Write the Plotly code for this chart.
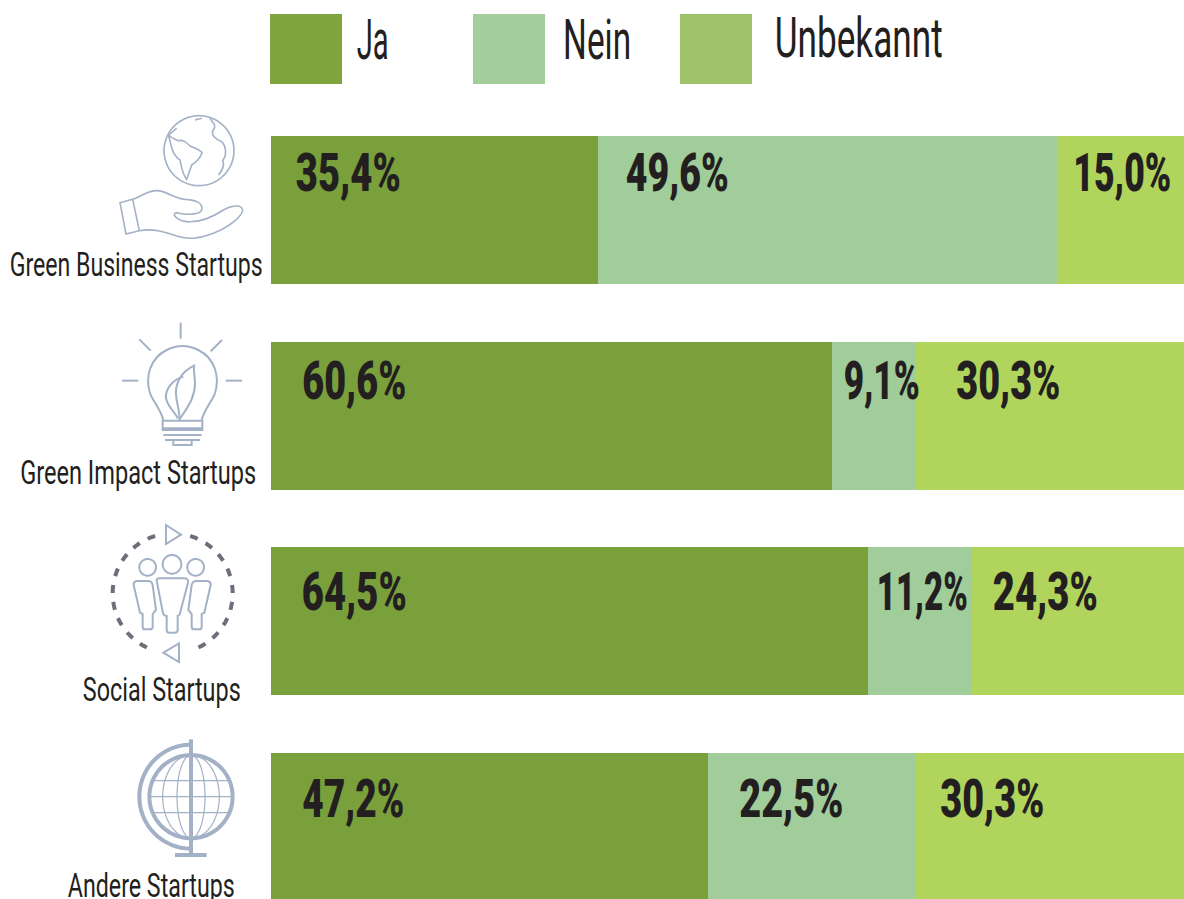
import json
import re
import numpy as np
import plotly.graph_objects as go

W, H = 1184, 899

categories = ["Green Business Startups", "Green Impact Startups", "Social Startups", "Andere Startups"]
ja = [35.4, 60.6, 64.5, 47.2]
nein = [49.6, 9.1, 11.2, 22.5]
unbekannt = [15.0, 30.3, 24.3, 30.3]
series_names = ["Ja", "Nein", "Unbekannt"]

BAR_COLORS = ["#7AA03C", "#A0CD9A", "#B1D55C"]
SWATCH_COLORS = ["#7FA33D", "#A3CE9C", "#9FC36B"]
TEXT = "#231F20"
ICON = "#A3B1C6"
DASH = "#6D6E78"
FONT = "Roboto"

# on-page widths of the condensed lettering, in pixels
TEXT_WIDTHS = {
    "Ja": 32, "Nein": 68, "Unbekannt": 168,
    "Green Business Startups": 253, "Green Impact Startups": 236,
    "Social Startups": 158, "Andere Startups": 167,
    "35,4%": 105, "49,6%": 103, "15,0%": 98, "60,6%": 104, "9,1%": 76, "30,3%": 104,
    "64,5%": 105, "11,2%": 91, "24,3%": 105, "47,2%": 102, "22,5%": 104,
}


def fmt(v):
    return f"{v:.1f}".replace(".", ",") + "%"


fig = go.Figure()
for name, vals, col in zip(series_names, [ja, nein, unbekannt], BAR_COLORS):
    fig.add_bar(y=categories, x=vals, name=name, orientation="h", width=0.72,
                marker=dict(color=col, line=dict(width=0)), showlegend=False, hoverinfo="skip")

annotations = []
shapes = []

# value labels: centre offset from segment start / vertical shift per row, in pixels
label_dx = [[77.5, 79, 65.7], [83, 49.5, 92.3], [83.5, 55, 74.3], [82, 83.4, 76.3]]
label_dy = [38, 35, 30, 28]
for r, cat in enumerate(categories):
    base = 0
    for s, vals in enumerate([ja, nein, unbekannt]):
        annotations.append(dict(x=base, y=cat, xref="x", yref="y", text=fmt(vals[r]), showarrow=False,
                                xanchor="center", yanchor="middle", xshift=label_dx[r][s], yshift=label_dy[r],
                                font=dict(family=FONT, size=54, color=TEXT, weight=900)))
        base += vals[r]


def ann_px(x, y, text, size, weight=400):
    annotations.append(dict(x=x / W, y=1 - y / H, xref="paper", yref="paper", text=text, showarrow=False,
                            xanchor="center", yanchor="middle",
                            font=dict(family=FONT, size=size, color=TEXT, weight=weight)))


for cat, cx, cy in zip(categories, [136, 138, 162, 151.5], [264, 472, 689, 885]):
    ann_px(cx, cy, cat, 34)

# legend
for name, col, x0, tx, ty in zip(series_names, SWATCH_COLORS, [270, 473, 680], [372, 596.5, 858], [40, 40, 38]):
    shapes.append(dict(type="rect", xref="paper", yref="paper", x0=x0 / W, x1=(x0 + 72) / W,
                       y0=1 - 84 / H, y1=1 - 14 / H, fillcolor=col, line=dict(width=0)))
    ann_px(tx, ty, name, 56)


# decorative icons, drawn in 3x zoomed pixel coordinates from a given origin
def conv(path, ox, oy):
    def rep(m):
        x, y = float(m.group(1)), float(m.group(2))
        return f"{(ox + x / 3) / W:.5f},{1 - (oy + y / 3) / H:.5f}"
    return re.sub(r"(-?[\d.]+),(-?[\d.]+)", rep, path)


def icon(path, ox, oy, color=ICON, width=1.6, dash=None):
    line = dict(color=color, width=width)
    if dash:
        line["dash"] = dash
    shapes.append(dict(type="path", xref="paper", yref="paper", path=conv(path, ox, oy), line=line))


def arc(cx, cy, rx, ry, a0, a1, n=60):
    t = np.radians(np.linspace(a0, a1, n))
    pts = [f"{cx + rx * np.cos(a):.1f},{cy + ry * np.sin(a):.1f}" for a in t]
    return "M" + " L".join(pts)


# globe in hand
o1 = (0, 100)
icon(arc(597, 152, 105, 105, 0, 360), *o1)
for p in [
    "M505,105 C515,115 525,118 535,122 C550,118 560,128 570,138 C585,145 600,148 606,158 C600,175 590,185 575,195 C570,210 565,225 560,238 C548,225 545,205 540,180 C525,170 515,150 512,130 L505,105",
    "M630,55 C640,70 650,75 640,90 C630,105 650,120 665,125 C680,140 680,170 668,180 C675,195 665,215 655,225",
    "M585,60 L605,55",
    "M505,105 L530,85",
    "M360,308 L398,298 C420,292 440,272 470,272 C500,272 520,295 555,298 C590,300 610,310 605,330 C600,345 560,345 530,338 C515,340 525,360 560,365 C600,368 640,350 670,330 C690,318 725,310 728,330 C725,350 690,380 640,400 C600,415 570,420 530,408 C490,395 460,385 418,392 L378,402 Z",
    "M398,298 L418,392",
]:
    icon(p, *o1)

# bulb
for p in [
    "M490,960 C480,925 460,905 450,880 C435,830 450,775 500,750 C530,735 565,735 595,750 C645,775 660,830 645,880 C635,905 615,925 605,960",
    "M488,962 L607,962 L607,985 L488,985 Z",
    "M485,990 L610,990",
    "M490,1005 L605,1005",
    "M495,1020 L600,1020",
    "M520,1022 L520,1035 L575,1035 L575,1022",
    "M542,668 L542,716",
    "M418,718 L452,752",
    "M666,720 L632,754",
    "M366,842 L415,842",
    "M677,842 L726,842",
    "M582,797 C545,815 520,850 530,900 C535,925 540,945 538,960 C555,930 585,900 585,850 C585,830 580,815 582,797 Z",
    "M550,830 C515,840 495,870 498,895 C505,925 525,935 533,955",
]:
    icon(p, *o1, width=2)

# people
o2 = (0, 510)
icon(arc(518, 250, 180, 180, -107, -253), *o2, color=DASH, width=4, dash="8px,9px")
icon(arc(518, 250, 180, 180, -73, 73), *o2, color=DASH, width=4, dash="8px,9px")
for p in [
    "M498,45 L543,74 L498,102 Z",
    "M537,400 L490,428 L537,456 Z",
    arc(443, 172, 25, 25, 0, 360),
    arc(516, 163, 28, 28, 0, 360),
    arc(587, 172, 25, 25, 0, 360),
    "M470,212 Q470,205 480,205 L552,205 Q566,205 564,218 L540,310 Q538,318 533,318 L533,360 Q533,368 525,368 L508,368 Q500,368 500,360 L500,318 Q490,318 488,305 Z",
    "M401,225 Q400,215 410,213 L445,213 Q455,213 458,225 L468,300 L458,312 L458,350 Q458,358 450,358 L435,358 Q428,358 428,350 L428,312 L420,308 Z",
    "M632,225 Q633,215 623,213 L588,213 Q578,213 575,225 L565,300 L575,312 L575,350 Q575,358 583,358 L598,358 Q605,358 605,350 L605,312 L613,308 Z",
]:
    icon(p, *o2, width=2)

# terrestrial globe
icon(arc(573, 860, 125, 125, 0, 360), *o2, width=4)
icon(arc(573, 860, 155, 156, -90, -270), *o2, width=4)
icon("M573,688 L573,1035", *o2, width=4)
icon("M525,1035 L620,1035", *o2, width=4)
for rx in (42, 85):
    icon(arc(573, 860, rx, 125, 0, 360), *o2, width=1.2)
for p in ["M450,860 L696,860", "M462,812 L684,812", "M462,908 L684,908"]:
    icon(p, *o2, width=1.2)

fig.update_layout(
    width=W, height=H, barmode="stack", margin=dict(l=0, r=0, t=0, b=0), bargap=0.28,
    plot_bgcolor="white", paper_bgcolor="white",
    xaxis=dict(domain=[271 / W, 1], range=[0, 98.7], visible=False, fixedrange=True),
    yaxis=dict(domain=[0, 1], type="category", categoryorder="array", categoryarray=categories,
               range=[3.351, -1.0214], visible=False, fixedrange=True),
    shapes=shapes, annotations=annotations,
)

post = ("document.body.style.margin='0';document.body.style.overflow='hidden';"
        "var tw=" + json.dumps(TEXT_WIDTHS) + ";"
        "document.querySelectorAll('text.annotation-text').forEach(function(t){"
        "var w=tw[t.textContent];if(w){t.setAttribute('textLength',w);"
        "t.setAttribute('lengthAdjust','spacingAndGlyphs');}});")
fig.write_html("out.html", config={"displayModeBar": False}, post_script=post)
